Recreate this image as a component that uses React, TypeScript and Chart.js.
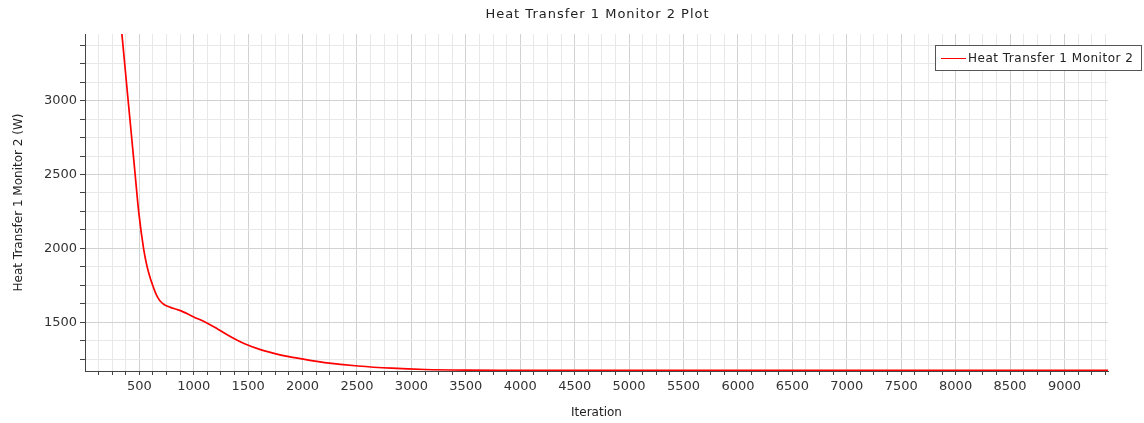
import React, { useEffect, useRef } from "react";
import { Chart, registerables } from "chart.js";

Chart.register(...registerables);

const chartTitle = "Heat Transfer 1 Monitor 2 Plot";
const seriesName = "Heat Transfer 1 Monitor 2";
const xAxisTitle = "Iteration";
const yAxisTitle = "Heat Transfer 1 Monitor 2 (W)";

const iterations = [
  250, 300, 340, 393, 433, 463, 494, 540, 571, 600, 623, 645, 669, 695, 724,
  760, 792, 840, 884, 940, 1000, 1099, 1222, 1344, 1467, 1620, 1774, 1927, 2081,
  2203, 2510, 2817, 3124, 3500, 4000, 5000, 6000, 7000, 8000, 9000, 9400,
];
const heatValues = [
  4150, 3763, 3451, 3035, 2725, 2490, 2250, 1995, 1878, 1800, 1750, 1706, 1668,
  1640, 1622, 1608, 1599, 1588, 1577, 1558, 1536, 1504, 1453, 1400, 1354, 1313,
  1283, 1260, 1240, 1227, 1204, 1189, 1180, 1176, 1175, 1174, 1174, 1174, 1174,
  1174, 1174,
];

const xMin = 1;
const xMax = 9400;
const yMin = 1170;
const yMax = 3451;
const minorStep = 125;
const majorStep = 500;

const FONT = "'DejaVu Sans', sans-serif";

const overlayPlugin = {
  id: "overlay",
  afterDraw(chart: any) {
    const ctx = chart.ctx;
    ctx.save();
    ctx.font = `13px ${FONT}`;
    (ctx as any).letterSpacing = "1px";
    ctx.fillStyle = "#222";
    ctx.textAlign = "center";
    ctx.textBaseline = "middle";
    const ca = chart.chartArea;
    ctx.fillText(chartTitle, (ca.left + ca.right) / 2 + 1, 14.5);
    (ctx as any).letterSpacing = "0px";
    const bx = 935.5, by = 45.5, bw = 206, bh = 25;
    ctx.fillStyle = "#fff";
    ctx.fillRect(bx, by, bw, bh);
    ctx.strokeStyle = "#555";
    ctx.lineWidth = 1;
    ctx.strokeRect(bx, by, bw, bh);
    ctx.strokeStyle = "#ff0000";
    ctx.beginPath();
    ctx.moveTo(941, 58.5);
    ctx.lineTo(966, 58.5);
    ctx.stroke();
    ctx.font = `12px ${FONT}`;
    (ctx as any).letterSpacing = "0.5px";
    ctx.fillStyle = "#222";
    ctx.textAlign = "left";
    ctx.textBaseline = "middle";
    ctx.fillText(seriesName, 968, 58.5);
    (ctx as any).letterSpacing = "0px";
    ctx.restore();
  },
};

const gridColor = (c: any) =>
  c.tick && Math.abs(c.tick.value % majorStep) < 1e-6 ? "#d2d2d2" : "#e8e8e8";

export default function App() {
  const canvasRef = useRef<HTMLCanvasElement | null>(null);

  useEffect(() => {
    if (!canvasRef.current) return;
    const points = iterations.map((x, i) => ({ x, y: heatValues[i] }));
    const chart = new Chart(canvasRef.current, {
      type: "line",
      data: {
        datasets: [
          {
            label: seriesName,
            data: points,
            borderColor: "#ff0000",
            borderWidth: 1.7,
            pointRadius: 0,
            fill: false,
            cubicInterpolationMode: "monotone",
          },
        ],
      },
      options: {
        animation: false,
        responsive: false,
        devicePixelRatio: 1,
        layout: { padding: { top: 34, right: 36, left: 0, bottom: 0 } },
        plugins: {
          legend: { display: false },
          title: { display: false },
          tooltip: { enabled: false },
        },
        scales: {
          x: {
            type: "linear",
            min: xMin,
            max: xMax,
            afterFit(scale: any) {
              scale.height = 52;
            },
            border: { display: true, color: "#444", width: 1 },
            grid: {
              color: gridColor,
              tickColor: "#444",
              tickLength: 4,
              drawTicks: true,
            },
            ticks: {
              stepSize: minorStep,
              includeBounds: false,
              autoSkip: false,
              maxRotation: 0,
              minRotation: 0,
              padding: 4,
              color: "#333",
              font: { family: FONT, size: 13 },
              callback: (v: any) => (v % majorStep === 0 ? String(v) : ""),
            },
            title: {
              display: true,
              text: xAxisTitle,
              color: "#222",
              font: { family: FONT, size: 12 },
              padding: { top: 0, bottom: 3 },
            },
          },
          y: {
            type: "linear",
            min: yMin,
            max: yMax,
            afterFit(scale: any) {
              scale.width = 85;
            },
            border: { display: true, color: "#444", width: 1 },
            grid: {
              color: gridColor,
              tickColor: "#444",
              tickLength: 5,
              drawTicks: true,
            },
            ticks: {
              stepSize: minorStep,
              includeBounds: false,
              autoSkip: false,
              padding: 3,
              color: "#333",
              font: { family: FONT, size: 13 },
              callback: (v: any) => (v % majorStep === 0 ? String(v) : ""),
            },
            title: {
              display: true,
              text: yAxisTitle,
              color: "#222",
              font: { family: FONT, size: 12 },
              padding: { top: 12, bottom: 0 },
            },
          },
        },
      },
      plugins: [overlayPlugin],
    } as any);
    return () => chart.destroy();
  }, []);

  return (
    <div style={{ position: "fixed", left: 0, top: 0, width: 1144, height: 423, background: "#fff" }}>
      <canvas ref={canvasRef} width={1144} height={423} style={{ display: "block" }} />
    </div>
  );
}
